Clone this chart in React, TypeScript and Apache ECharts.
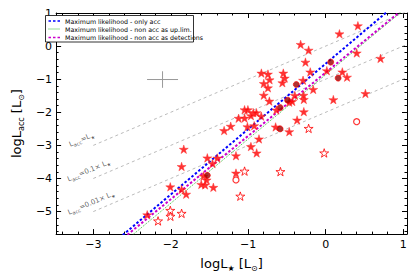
import React, { useEffect, useRef } from "react";
import * as echarts from "echarts";

// ---- data (log units) ----
const filledStars: number[][] = [
  [-1.832, -3.116], [-1.86, -3.638], [-2.006, -4.252], [-1.86, -4.332], [-1.801, -4.475],
  [-1.606, -4.178], [-1.557, -4.193], [-1.528, -3.377], [-1.578, -3.926], [-1.537, -4.045],
  [-1.46, -3.549], [-1.45, -4.267], [-1.398, -3.383], [-2.304, -5.098], [-1.311, -2.552],
  [-1.226, -2.421], [-1.124, -2.181], [-1.047, -2.175], [-1.047, -1.923], [-1.004, -1.923],
  [-0.934, -2.012], [-0.894, -2.012], [-0.965, -2.101], [-0.832, -2.116], [-1.01, -2.436],
  [-0.923, -2.404], [-0.646, -2.442], [-0.47, -2.585], [-0.861, -2.804], [-0.965, -3.036],
  [-0.891, -3.228], [-1.158, -3.312], [-1.158, -3.837], [-0.83, -0.816], [-0.745, -0.846],
  [-0.547, -0.816], [-0.528, -0.967], [-0.724, -1.018], [-0.799, -1.131], [-0.745, -1.261],
  [-0.559, -1.107], [-0.799, -1.484], [-0.727, -1.662], [-0.47, -1.694], [-0.431, -1.671],
  [-0.398, -1.493], [-0.292, -1.033], [-0.286, -1.484], [-0.282, -1.611], [-0.637, -1.932],
  [-0.282, -1.982], [-0.369, -2.234], [-0.323, 0.05], [-0.22, -0.122], [-0.261, -0.484],
  [-0.199, -0.78], [0.015, -0.742], [0.215, -0.78], [0.276, -0.938], [-0.161, -1.309],
  [0.099, -1.617], [0.513, -1.433], [0.416, 0.614], [0.178, 0.371], [0.401, -0.208],
  [0.708, -0.371],
];
const openStars: number[][] = [
  [-2.164, -5.282], [-2.006, -4.964], [-2.004, -5.142], [-1.86, -5.053], [-0.22, -2.487],
  [-0.019, -3.228], [-1.047, -3.777], [-0.584, -3.792], [-1.102, -4.534],
];
const darkCircles: number[][] = [
  [-1.528, -3.905], [-0.588, -1.858], [-0.588, -2.501], [-0.491, -1.635], [-0.379, -1.16],
  [0.065, -0.484], [0.161, -0.967],
];
const openCircles: number[][] = [
  [0.4, -2.285], [-1.158, -4.045],
];
// fit lines (endpoints)
const fitOnlyAcc: number[][] = [[-2.62, -5.71], [0.79, 1.03]];
const fitUpLim: number[][] = [[-2.49, -5.7], [0.97, 1.02]];
const fitDetections: number[][] = [[-2.56, -5.7], [0.95, 1.02]];
// reference lines L_acc = f * L*
const refLine1: number[][] = [[-3, -3], [1.05, 1.05]];
const refLine01: number[][] = [[-3, -4], [1.05, 0.05]];
const refLine001: number[][] = [[-3, -5], [1.05, -0.95]];
const refLabels = [
  { value: [-3.149, -2.828], text: "L{s|acc}=L{s|★}" },
  { value: [-3.056, -3.763], text: "L{s|acc}=0.1× L{s|★}" },
  { value: [-3.025, -4.742], text: "L{s|acc}=0.01× L{s|★}" },
];
// typical error bar
const crossCenter = [-2.106, -1.01];
const crossErr = [0.2, 0.25];
// axes
const xMin = -3.48, xMax = 1.05;
const yMin = -5.68, yMax = 1;
const xTicks = [-3, -2, -1, 0, 1];
const yTicks = [-5, -4, -3, -2, -1, 0, 1];
const legendNames = [
  "Maximum likelihood - only acc",
  "Maximum likelihood - non acc as up.lim.",
  "Maximum likelihood - non acc as detections",
];

const STAR = "path://M50,0 L61,35 L98,35 L68,57 L79,91 L50,70 L21,91 L32,57 L2,35 L39,35 Z";
const FONT = "DejaVu Sans";

function minorValues(min: number, max: number): number[] {
  const out: number[] = [];
  for (let v = Math.ceil(min / 0.2) * 0.2; v <= max + 1e-9; v += 0.2) {
    const r = Math.round(v * 10) / 10;
    if (Math.abs(r - Math.round(r)) > 1e-6) out.push(r);
  }
  return out;
}
const fmt = (v: number) => String(v).replace("-", "\u2212");

export default function App() {
  const ref = useRef<HTMLDivElement>(null);
  useEffect(() => {
    if (!ref.current) return;
    const chart = echarts.init(ref.current, undefined, { renderer: "svg" });
    const xMinor = minorValues(xMin, xMax);
    const yMinor = minorValues(yMin, yMax);
    const line = { color: "#000", width: 1 };
    const sub = { fontSize: 8, lineHeight: 8, padding: [9, 0, 0, 0], fontFamily: FONT, color: "#000" };
    const mkX = (pos: string, ticks: number[], len: number, labels: boolean, showLine: boolean, extra: any = {}) => ({
      type: "value", position: pos, min: xMin, max: xMax, gridIndex: 0,
      axisLine: { show: showLine, onZero: false, lineStyle: line },
      axisTick: { show: true, inside: true, length: len, customValues: ticks, lineStyle: line },
      axisLabel: labels
        ? { show: true, customValues: xTicks, formatter: fmt, fontSize: 11, color: "#000", fontFamily: FONT, margin: 5 }
        : { show: false },
      splitLine: { show: false },
      ...extra,
    });
    const mkY = (pos: string, ticks: number[], len: number, labels: boolean, showLine: boolean, extra: any = {}) => ({
      type: "value", position: pos, min: yMin, max: yMax, gridIndex: 0,
      axisLine: { show: showLine, onZero: false, lineStyle: line },
      axisTick: { show: true, inside: true, length: len, customValues: ticks, lineStyle: line },
      axisLabel: labels
        ? { show: true, customValues: yTicks, formatter: fmt, fontSize: 11, color: "#000", fontFamily: FONT, margin: 4 }
        : { show: false },
      splitLine: { show: false },
      ...extra,
    });
    const lineSeries = (data: number[][], color: string, width: number, type: any, z = 2) => ({
      type: "line", data, showSymbol: false, symbol: "none", clip: true, silent: true, z,
      lineStyle: { color, width, type },
    });
    const cross = [
      [[crossCenter[0] - crossErr[0], crossCenter[1]], [crossCenter[0] + crossErr[0], crossCenter[1]]],
      [[crossCenter[0], crossCenter[1] - crossErr[1]], [crossCenter[0], crossCenter[1] + crossErr[1]]],
    ];
    const legendY = [21, 29, 37.5];
    const legendStyles = [
      { color: "#0000ff", width: 1.6, dash: [2.5, 2] },
      { color: "#33bb33", width: 1, dash: [1, 1] },
      { color: "#cc00cc", width: 1.6, dash: [2.5, 2] },
    ];
    chart.setOption({
      animation: false,
      backgroundColor: "#fff",
      textStyle: { fontFamily: FONT },
      grid: { left: 43, top: 13, width: 364, height: 225, containLabel: false },
      xAxis: [
        mkX("bottom", xTicks, 5, true, true, {
          name: "logL{s|★} [L{s|⊙}]", nameLocation: "middle", nameGap: 16,
          nameTextStyle: { fontSize: 13, color: "#000", fontFamily: FONT, rich: { s: sub } },
        }),
        mkX("bottom", xMinor, 2.5, false, false),
        mkX("top", xTicks, 5, false, true),
        mkX("top", xMinor, 2.5, false, false),
      ],
      yAxis: [
        mkY("left", yTicks, 5, true, true, {
          name: "logL{s|acc} [L{s|⊙}]", nameLocation: "middle", nameGap: 22,
          nameTextStyle: { fontSize: 13, color: "#000", fontFamily: FONT, rich: { s: sub } },
        }),
        mkY("left", yMinor, 2.5, false, false),
        mkY("right", yTicks, 5, false, true),
        mkY("right", yMinor, 2.5, false, false),
      ],
      series: [
        lineSeries(refLine1, "#aaaaaa", 0.8, [3, 3]),
        lineSeries(refLine01, "#aaaaaa", 0.8, [3, 3]),
        lineSeries(refLine001, "#aaaaaa", 0.8, [3, 3]),
        lineSeries(cross[0], "#999999", 1, "solid"),
        lineSeries(cross[1], "#999999", 1, "solid"),
        lineSeries(fitUpLim, "#33bb33", 1, [1, 1.2], 3),
        lineSeries(fitDetections, "#cc00cc", 2, [2.5, 2], 3),
        lineSeries(fitOnlyAcc, "#0000ff", 2, [2.5, 2], 3),
        {
          type: "scatter", data: filledStars, symbol: STAR, symbolSize: 9, symbolKeepAspect: true, z: 5,
          itemStyle: { color: "#ff0000", borderColor: "#ff3030", borderWidth: 0.6 },
        },
        {
          type: "scatter", data: openStars, symbol: STAR, symbolSize: 9, symbolKeepAspect: true, z: 5,
          itemStyle: { color: "#ffffff", borderColor: "#ff0000", borderWidth: 1 },
        },
        {
          type: "scatter", data: darkCircles, symbol: "circle", symbolSize: 6, z: 6,
          itemStyle: { color: "#9a0000", borderColor: "#ff0000", borderWidth: 0.8 },
        },
        {
          type: "scatter", data: openCircles, symbol: "circle", symbolSize: 6, z: 6,
          itemStyle: { color: "#ffffff", borderColor: "#ff0000", borderWidth: 1.2 },
        },
        {
          type: "scatter", symbolSize: 0, silent: true, z: 4,
          data: refLabels.map((d) => ({ value: d.value, label: { formatter: d.text } })),
          label: {
            show: true, position: "inside", rotate: 23, fontSize: 7, color: "#333", fontFamily: FONT,
            rich: { s: { fontSize: 5, lineHeight: 5, padding: [4, 0, 0, 0], color: "#333", fontFamily: FONT } },
          },
        },
      ],
      graphic: [
        {
          type: "rect", z: 100, shape: { x: 45.5, y: 15.5, width: 148, height: 26.5 },
          style: { fill: "#fff", stroke: "#000", lineWidth: 0.8 },
        },
        ...legendNames.flatMap((name, i) => [
          {
            type: "line", z: 101,
            shape: { x1: 48.5, y1: legendY[i], x2: 60, y2: legendY[i] },
            style: { stroke: legendStyles[i].color, lineWidth: legendStyles[i].width, lineDash: legendStyles[i].dash },
          },
          {
            type: "text", z: 101, x: 65, y: legendY[i],
            style: { text: name, fontSize: 6.3, fill: "#000", fontFamily: FONT, verticalAlign: "middle", align: "left" },
          },
        ]),
      ],
    });
    return () => chart.dispose();
  }, []);
  return <div ref={ref} style={{ position: "fixed", left: 0, top: 0, width: 415, height: 277 }} />;
}
